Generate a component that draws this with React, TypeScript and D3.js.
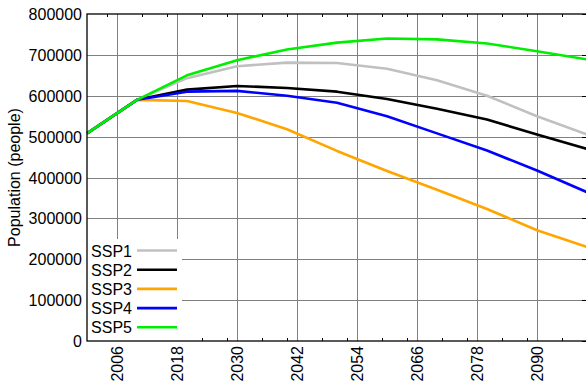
import React from 'react';
import * as d3 from 'd3';

// chart values
const years = [2000, 2010, 2020, 2030, 2040, 2050, 2060, 2070, 2080, 2090, 2100];
const ssp1 = [508000, 590000, 643000, 672000, 681000, 680000, 666000, 638000, 600000, 550000, 505000];
const ssp2 = [508000, 590000, 615000, 624000, 619000, 610000, 592000, 568000, 542000, 505000, 470000];
const ssp3 = [508000, 590000, 587000, 558000, 518000, 465000, 416000, 370000, 323000, 271000, 230000];
const ssp4 = [508000, 590000, 610000, 612000, 600000, 583000, 550000, 508000, 466000, 417000, 364000];
const ssp5 = [508000, 590000, 650000, 687000, 713000, 730000, 740000, 738000, 728000, 709000, 689000];

const seriesNames = ['SSP1', 'SSP2', 'SSP3', 'SSP4', 'SSP5'];
const seriesColors = ['#c0c0c0', '#000000', '#ffa500', '#0000ff', '#00ee00'];
const xTicks = [2006, 2018, 2030, 2042, 2054, 2066, 2078, 2090];
const yTicks = [0, 100000, 200000, 300000, 400000, 500000, 600000, 700000, 800000];

const W = 586;
const H = 389;
const left = 87;
const right = 587;
const top = 14;
const bottom = 341;
const font = '"Liberation Sans", Arial, sans-serif';

export default function App() {
    const allSeries = [ssp1, ssp2, ssp3, ssp4, ssp5];

    const x = d3.scaleLinear().domain([2000, 2100]).range([left, right]);
    const y = d3.scaleLinear().domain([0, 800000]).range([bottom, top]);

    // minor ticks sit 5 and 10 years after each major tick
    const minorTicks: number[] = [];
    [1994, ...xTicks].forEach((m) => {
        [m + 5, m + 10].forEach((t) => {
            if (t > 2000 && t < 2100) minorTicks.push(t);
        });
    });

    const line = d3
        .line<number>()
        .x((_, i) => x(years[i]))
        .y((d) => y(d));

    const legendTop = 239;
    const rowH = 19.2;

    return (
        <div style={{ position: 'fixed', left: 0, top: 0 }}>
            <svg width={W} height={H} style={{ display: 'block', background: '#fff' }} fontFamily={font}>
                {/* grid */}
                <g stroke="#808080" strokeWidth={1}>
                    {xTicks.map((t) => (
                        <line key={'gx' + t} x1={Math.round(x(t)) + 0.5} x2={Math.round(x(t)) + 0.5} y1={top} y2={bottom} />
                    ))}
                    {yTicks.slice(1, -1).map((t) => (
                        <line key={'gy' + t} x1={left} x2={right} y1={Math.round(y(t)) + 0.5} y2={Math.round(y(t)) + 0.5} />
                    ))}
                </g>

                {/* minor ticks */}
                <g stroke="#000" strokeWidth={1}>
                    {minorTicks.map((t) => (
                        <g key={'m' + t}>
                            <line x1={Math.round(x(t)) + 0.5} x2={Math.round(x(t)) + 0.5} y1={top} y2={top + 3} />
                            <line x1={Math.round(x(t)) + 0.5} x2={Math.round(x(t)) + 0.5} y1={bottom} y2={bottom - 3} />
                        </g>
                    ))}
                    {yTicks.map((t) => (
                        <line key={'ry' + t} x1={right - 5} x2={right} y1={Math.round(y(t)) + 0.5} y2={Math.round(y(t)) + 0.5} />
                    ))}
                </g>

                {/* legend background */}
                <rect x={left} y={legendTop} width={95} height={bottom - legendTop} fill="#fff" />

                {/* series lines */}
                {allSeries.map((s, i) => (
                    <path key={seriesNames[i]} d={line(s) || ''} fill="none" stroke={seriesColors[i]} strokeWidth={2.6} strokeLinejoin="round" />
                ))}

                {/* frame */}
                <rect x={left} y={top} width={right - left} height={bottom - top} fill="none" stroke="#000" strokeWidth={1.3} />

                {/* y labels */}
                {yTicks.map((t) => (
                    <text key={'ly' + t} x={82} y={y(t) + 6} textAnchor="end" fontSize={16} fill="#000">
                        {t}
                    </text>
                ))}

                {/* x labels */}
                {xTicks.map((t) => (
                    <text
                        key={'lx' + t}
                        transform={`translate(${x(t) + 6},346) rotate(-90)`}
                        textAnchor="end"
                        fontSize={16}
                        fill="#000"
                    >
                        {t}
                    </text>
                ))}

                <text transform={`translate(20,${(top + bottom) / 2}) rotate(-90)`} textAnchor="middle" fontSize={16} fill="#000">
                    Population (people)
                </text>

                {/* legend */}
                {seriesNames.map((n, i) => {
                    const cy = legendTop + 11.5 + i * rowH;
                    return (
                        <g key={'lg' + n}>
                            <text x={132} y={cy + 6} textAnchor="end" fontSize={16} fill="#000">
                                {n}
                            </text>
                            <line x1={137} x2={177} y1={cy} y2={cy} stroke={seriesColors[i]} strokeWidth={2.6} />
                        </g>
                    );
                })}
            </svg>
        </div>
    );
}
